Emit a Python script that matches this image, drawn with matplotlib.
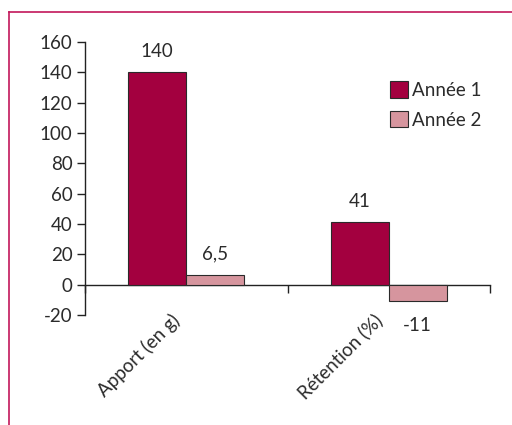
import matplotlib
matplotlib.use("Agg")
import matplotlib.pyplot as plt
from matplotlib.lines import Line2D
from matplotlib.patches import Patch

plt.rcParams['font.family'] = ['Lato', 'DejaVu Sans']

categories = ["Apport (en g)", "Rétention (%)"]
series_names = ["Année 1", "Année 2"]
annee1 = [140, 41]
annee2 = [6.5, -11]
value_labels1 = ["140", "41"]
value_labels2 = ["6,5", "-11"]
yticks = [-20, 0, 20, 40, 60, 80, 100, 120, 140, 160]

color1 = "#A3003F"
color2 = "#D6959E"
text_color = "#2b2b2b"
frame_color = "#C2185B"
fs = 13.5

W, H = 512, 425
fig = plt.figure(figsize=(W / 100, H / 100), dpi=100)
fig.patch.set_facecolor("white")

# axes box: x from 85 px to 490 px, y from -20 (315 px) to 160 (42 px)
ax = fig.add_axes([85 / W, (H - 315) / H, (490 - 85) / W, (315 - 42) / H])
ax.set_xlim(0, 2)
ax.set_ylim(-20, 160)

bw = 0.287
centers = [0.5, 1.5]
x1 = [c - bw / 2 for c in centers]
x2 = [c + bw / 2 for c in centers]
ax.bar(x1, annee1, width=bw, color=color1, edgecolor="#2a2a2a", linewidth=0.8, label=series_names[0], zorder=3)
ax.bar(x2, annee2, width=bw, color=color2, edgecolor="#2a2a2a", linewidth=0.8, label=series_names[1], zorder=3)

# value labels
for xs, vals, labs in [(x1, annee1, value_labels1), (x2, annee2, value_labels2)]:
    for x, v, lab in zip(xs, vals, labs):
        off = 15 if v >= 0 else -17.5
        ax.annotate(lab, (x, v), xytext=(0, off), textcoords="offset points",
                    ha="center", va="center", fontsize=fs, color=text_color)

# spines
for s in ["top", "right"]:
    ax.spines[s].set_visible(False)
ax.spines["bottom"].set_position(("data", 0))
ax.spines["bottom"].set_linewidth(1.0)
ax.spines["left"].set_linewidth(1.0)
ax.spines["bottom"].set_color("#222222")
ax.spines["left"].set_color("#222222")

ax.set_yticks(yticks)
ax.set_yticklabels([str(t) for t in yticks])
ax.tick_params(axis="y", direction="out", length=6, width=1.0, colors="#222222",
               labelsize=fs, labelcolor=text_color, pad=3)
ax.set_xticks([0, 1, 2])
ax.set_xticklabels([])
ax.tick_params(axis="x", direction="out", length=6, width=1.0, colors="#222222")

# rotated category labels
for c, lab in zip(centers, categories):
    ax.annotate(lab, xy=(c, -20), xycoords=("data", "data"), xytext=(-6.5, -1.5),
                textcoords="offset points", rotation=45, rotation_mode="anchor",
                ha="right", va="center", fontsize=fs, color=text_color)

handles = [Patch(facecolor=color1, edgecolor="#2a2a2a", linewidth=0.8),
           Patch(facecolor=color2, edgecolor="#2a2a2a", linewidth=0.8)]
fig.legend(handles, series_names, loc="upper left", bbox_to_anchor=(381 / W, 1 - 72 / H),
           frameon=False, fontsize=fs, handlelength=0.95, handleheight=0.95,
           handletextpad=0.2, labelspacing=0.65, borderpad=0, labelcolor=text_color)

# outer frame (left and top edges)
fig.add_artist(Line2D([8.5 / W, 8.5 / W], [0, 1 - 12 / H], color=frame_color, linewidth=1.2))
fig.add_artist(Line2D([8.5 / W, 1], [1 - 12 / H, 1 - 12 / H], color=frame_color, linewidth=1.2))

fig.savefig("out.png", dpi=100)
